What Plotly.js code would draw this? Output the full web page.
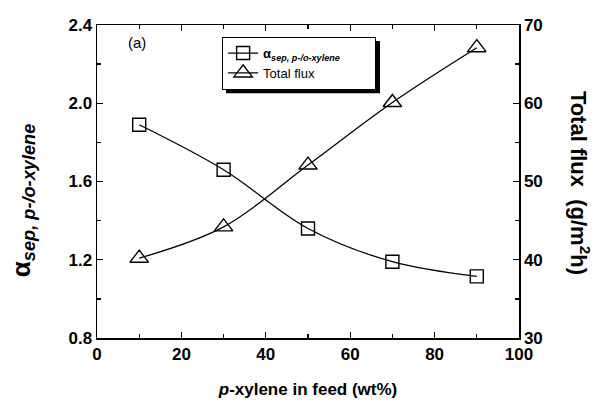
<!DOCTYPE html>
<html><head><meta charset="utf-8">
<script src="https://cdn.plot.ly/plotly-3.0.1.min.js"></script>
<style>body{margin:0;background:#fff}#c{width:593px;height:408px}</style>
</head><body><div id="c"></div>
<script>
const feed = [10, 30, 50, 70, 90];
const alphaSep = [1.89, 1.66, 1.36, 1.19, 1.115];
const totalFlux = [40.2, 44.2, 52.1, 60.1, 67.1];
const xTicks = [0, 20, 40, 60, 80, 100];
const yTicks = [0.8, 1.2, 1.6, 2.0, 2.4];
const y2Ticks = [30, 40, 50, 60, 70];

const F = 'Liberation Sans, Arial, sans-serif';
const tickFont = {family: F, size: 17, color: '#000', weight: 'bold'};

const traces = [
  {x: feed, y: alphaSep, type: 'scatter', mode: 'lines+markers',
   name: '<b>α</b><sub><b><i>sep, p-/o-xylene</i></b></sub>&nbsp;&nbsp;&nbsp;&nbsp;&nbsp;&nbsp;&nbsp;&nbsp;',
   line: {color: '#000', width: 1.3, shape: 'spline'},
   marker: {symbol: 'square-open', size: 13, color: '#000', line: {width: 1.4}}},
  {x: feed, y: totalFlux, type: 'scatter', mode: 'lines+markers', yaxis: 'y2',
   name: 'Total flux',
   line: {color: '#000', width: 1.3, shape: 'spline'},
   marker: {symbol: 'triangle-up-open', size: 16, color: '#000', line: {width: 1.4}}}
];

const axBase = {showgrid: false, zeroline: false, showline: true, linecolor: '#000', linewidth: 1.5,
  ticks: 'inside', ticklen: 6, tickwidth: 1.3, tickcolor: '#000', tickfont: tickFont};

const layout = {
  width: 593, height: 408,
  margin: {l: 97, r: 74, t: 25, b: 70},
  paper_bgcolor: '#fff', plot_bgcolor: '#fff',
  showlegend: true,
  legend: {x: 0.296, y: 0.962, xanchor: 'left', yanchor: 'top', bgcolor: '#fff',
    bordercolor: '#000', borderwidth: 1.2, font: {family: F, size: 13, color: '#000'},
    tracegroupgap: 0, itemwidth: 30},
  xaxis: Object.assign({}, axBase, {range: [0, 100], tickvals: xTicks, ticktext: xTicks.map(String),
    mirror: 'ticks', minor: {dtick: 10, tick0: 0, ticks: 'inside', ticklen: 4, tickcolor: '#000'},
    title: {text: '<b><i>p</i>-xylene in feed (wt%)</b>', font: {family: F, size: 17, color: '#000'}, standoff: 20}}),
  yaxis: Object.assign({}, axBase, {range: [0.8, 2.4], tickvals: yTicks, ticktext: yTicks.map(v => v.toFixed(1)),
    minor: {dtick: 0.2, tick0: 0.8, ticks: 'inside', ticklen: 4, tickcolor: '#000'}}),
  yaxis2: Object.assign({}, axBase, {range: [30, 70], tickvals: y2Ticks, ticktext: y2Ticks.map(String),
    overlaying: 'y', side: 'right',
    minor: {dtick: 5, tick0: 30, ticks: 'inside', ticklen: 4, tickcolor: '#000'}}),
  shapes: [
    {type: 'rect', xref: 'paper', yref: 'paper', layer: 'above',
     x0: 0.3057, x1: 0.6706, y0: 0.782, y1: 0.9489, fillcolor: '#000', line: {width: 0}}
  ],
  annotations: [
    {text: '(a)', xref: 'paper', yref: 'paper', x: 0.095, y: 0.945, xanchor: 'center', yanchor: 'middle',
     showarrow: false, font: {family: F, size: 15, color: '#000'}},
    {text: '<b>α</b><sub><b><i>sep, p-/o-xylene</i></b></sub>', xref: 'paper', yref: 'paper', x: -0.178, y: 0.44,
     textangle: -90, showarrow: false, font: {family: F, size: 26, color: '#000'}, xanchor: 'center', yanchor: 'middle'},
    {text: '<b>Total flux  (g/m<sup>2</sup>h)</b>', xref: 'paper', yref: 'paper', x: 1.145, y: 0.495,
     textangle: 90, showarrow: false, font: {family: F, size: 22, color: '#000'}, xanchor: 'center', yanchor: 'middle'}
  ]
};

Plotly.newPlot('c', traces, layout, {displayModeBar: false, staticPlot: true});
</script></body></html>
